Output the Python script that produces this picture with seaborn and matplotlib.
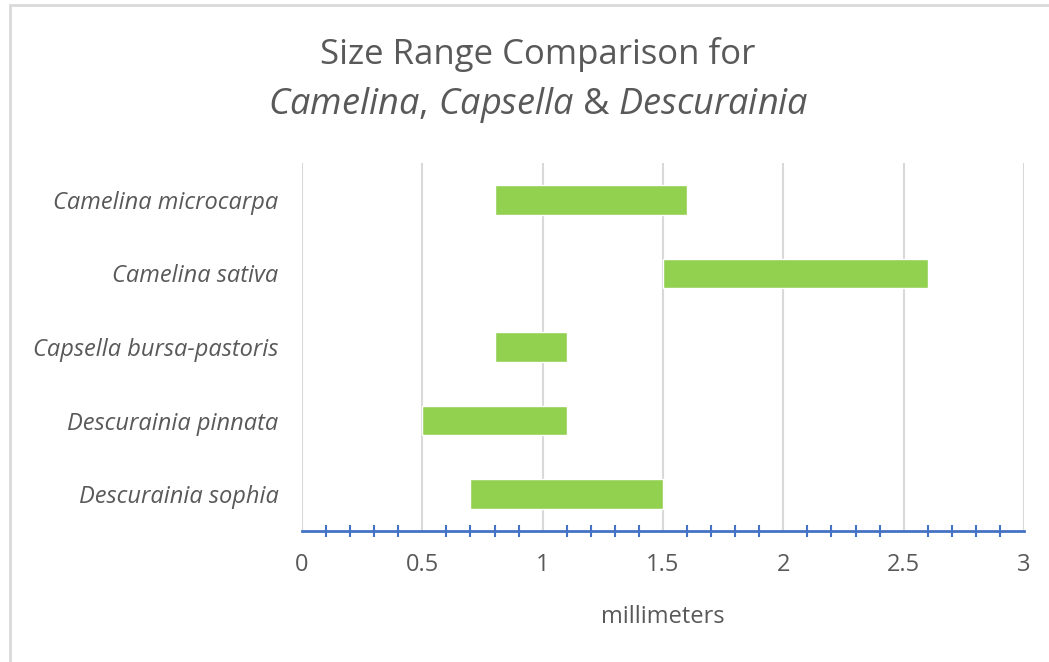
import matplotlib
matplotlib.use("Agg")
import matplotlib.pyplot as plt
import seaborn as sns
import pandas as pd
from matplotlib.patches import Rectangle
from matplotlib.ticker import MultipleLocator

species = ["Camelina microcarpa", "Camelina sativa", "Capsella bursa-pastoris",
           "Descurainia pinnata", "Descurainia sophia"]
size_min = [0.8, 1.5, 0.8, 0.5, 0.7]
size_max = [1.6, 2.6, 1.1, 1.1, 1.5]

df = pd.DataFrame({"species": species, "start": size_min, "end": size_max})
df["span"] = df["end"] - df["start"]

sns.set_theme(style="white")
FONT = "Open Sans"
plt.rcParams["font.family"] = [FONT, "DejaVu Sans"]
plt.rcParams["mathtext.fontset"] = "custom"
plt.rcParams["mathtext.rm"] = FONT
plt.rcParams["mathtext.it"] = FONT + ":italic"

grey = "#595959"
blue = "#4472C4"

fig = plt.figure(figsize=(10.49, 6.62), dpi=100)
ax = fig.add_axes([302 / 1049, 1 - 531 / 662, 722 / 1049, 368 / 662])

sns.barplot(data=df, x="span", y="species", orient="h", color="#92D050",
            saturation=1, width=0.4, ax=ax, zorder=3)
for patch, start in zip(ax.patches, df["start"]):
    patch.set_x(start)

ax.set_xlim(0, 3)
ax.set_ylim(4.5, -0.5)
ax.xaxis.set_major_locator(MultipleLocator(0.5))
ax.xaxis.set_minor_locator(MultipleLocator(0.1))
ax.xaxis.set_major_formatter(plt.FuncFormatter(lambda v, p: f"{v:g}"))
ax.grid(axis="x", which="major", color="#D9D9D9", linewidth=1.5, zorder=0)
ax.set_axisbelow(True)

for side in ["top", "right", "left"]:
    ax.spines[side].set_visible(False)
ax.spines["bottom"].set_color(blue)
ax.spines["bottom"].set_linewidth(2)
ax.spines["bottom"].set_zorder(4)

ax.tick_params(axis="x", which="major", direction="inout", length=12, width=1.5,
               color=blue, pad=10, labelsize=17, labelcolor=grey)
ax.tick_params(axis="x", which="minor", direction="inout", length=8, width=1.5,
               color=blue, bottom=True)
ax.tick_params(axis="y", length=0, pad=17, labelsize=17, labelcolor=grey)
for lbl in ax.get_yticklabels():
    lbl.set_fontstyle("italic")

ax.set_ylabel("")
ax.set_xlabel("millimeters", fontsize=17, color=grey, labelpad=20)

fig.text(538 / 1049, 1 - 55 / 662, "Size Range Comparison for",
         ha="center", va="center", fontsize=25, color=grey)
fig.text(538 / 1049, 1 - 105 / 662,
         r"$\mathit{Camelina{,}\ Capsella}$ & $\mathit{Descurainia}$",
         ha="center", va="center", fontsize=26, color=grey)

fig.patches.append(Rectangle((10 / 1049, -0.5), 1.5, 1.5 - 5 / 662,
                             transform=fig.transFigure, fill=False,
                             edgecolor="#D9D9D9", linewidth=2))

fig.savefig("out.png", dpi=100)
plt.close()
